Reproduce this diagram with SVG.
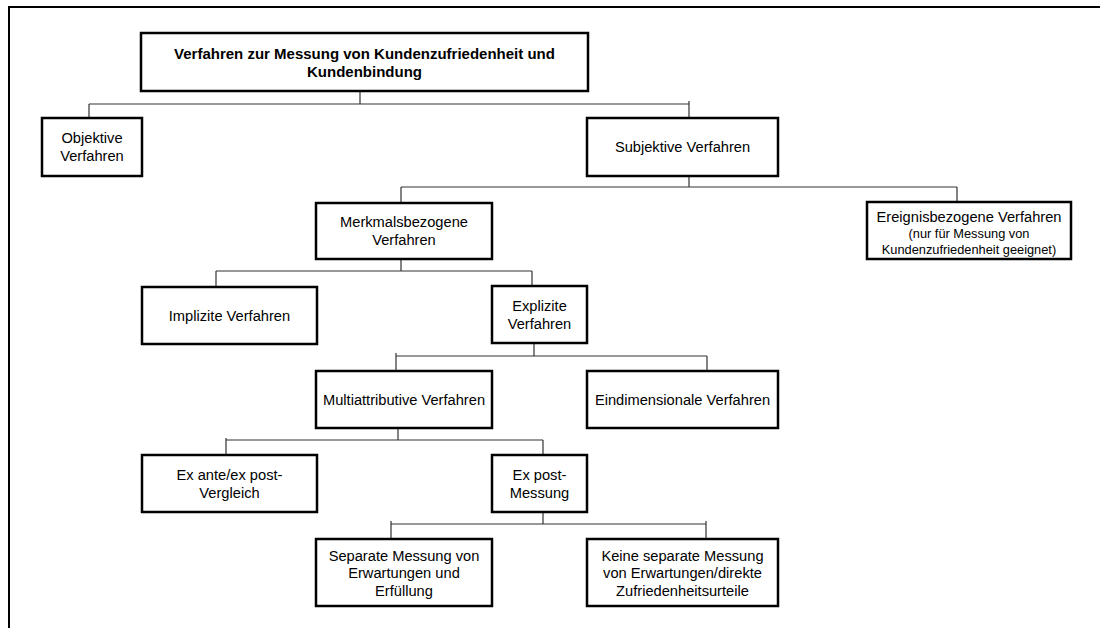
<svg xmlns="http://www.w3.org/2000/svg" width="1100" height="628" viewBox="0 0 1100 628">
<style>
.box{fill:#fff;stroke:#000;stroke-width:2.5}
.t{font-family:"Liberation Sans",Arial,sans-serif;font-size:14.67px;fill:#000;text-anchor:middle}
.tb{font-weight:bold;font-size:15px}
.ts{font-size:12.8px}
.c{fill:none;stroke:#333;stroke-width:1.2}
.frame{fill:none;stroke:#000;stroke-width:2}
</style>
<rect width="1100" height="628" fill="#fff"/>
<path class="frame" d="M8,7 H1100 M9,6 V628"/>
<g id="connectors">
<path class="c" d="M360,91 V104 M89,104 H689 M89,104 V118 M689,101 V118"/>
<path class="c" d="M689,176 V187 M401,187 H957 M401,187 V203 M957,187 V202"/>
<path class="c" d="M401,259 V271 M216,271 H532 M216,271 V287 M532,271 V286"/>
<path class="c" d="M534,343 V356 M396,356 H707 M396,353 V371 M707,356 V371"/>
<path class="c" d="M398,425 V440 M226,440 H543 M226,438 V455 M543,440 V455"/>
<path class="c" d="M543,512 V524 M391,524 H706 M391,521 V539 M706,521 V539"/>
</g>
<g id="n-root"><rect class="box" x="141" y="33" width="447" height="58"/><text class="t tb" x="364.5" y="58.5">Verfahren zur Messung von Kundenzufriedenheit und</text><text class="t tb" x="364.5" y="76.5">Kundenbindung</text></g>
<g id="n-objektiv"><rect class="box" x="42" y="118" width="100" height="58"/><text class="t" x="92" y="143">Objektive</text><text class="t" x="92" y="161">Verfahren</text></g>
<g id="n-subjektiv"><rect class="box" x="587" y="118" width="191" height="58"/><text class="t" x="682.5" y="152">Subjektive Verfahren</text></g>
<g id="n-merkmal"><rect class="box" x="316" y="203" width="176" height="56"/><text class="t" x="404" y="227">Merkmalsbezogene</text><text class="t" x="404" y="245">Verfahren</text></g>
<g id="n-ereignis"><rect class="box" x="867" y="202" width="204" height="57"/><text class="t" x="969" y="222">Ereignisbezogene Verfahren</text><text class="t ts" x="969" y="238">(nur für Messung von</text><text class="t ts" x="969" y="254">Kundenzufriedenheit geeignet)</text></g>
<g id="n-implizit"><rect class="box" x="142" y="287" width="175" height="57"/><text class="t" x="229.5" y="320.5">Implizite Verfahren</text></g>
<g id="n-explizit"><rect class="box" x="492" y="286" width="95" height="57"/><text class="t" x="539.5" y="311">Explizite</text><text class="t" x="539.5" y="329">Verfahren</text></g>
<g id="n-multi"><rect class="box" x="316" y="371" width="176" height="57"/><text class="t" x="404" y="404.5">Multiattributive Verfahren</text></g>
<g id="n-eindim"><rect class="box" x="587" y="371" width="191" height="57"/><text class="t" x="682.5" y="404.5">Eindimensionale Verfahren</text></g>
<g id="n-exante"><rect class="box" x="142" y="455" width="175" height="57"/><text class="t" x="229.5" y="479.5">Ex ante/ex post-</text><text class="t" x="229.5" y="497.5">Vergleich</text></g>
<g id="n-expost"><rect class="box" x="492" y="455" width="95" height="57"/><text class="t" x="539.5" y="479.5">Ex post-</text><text class="t" x="539.5" y="497.5">Messung</text></g>
<g id="n-separat"><rect class="box" x="316" y="539" width="176" height="67"/><text class="t" x="404" y="560.5">Separate Messung von</text><text class="t" x="404" y="578">Erwartungen und</text><text class="t" x="404" y="595.5">Erfüllung</text></g>
<g id="n-keine"><rect class="box" x="587" y="539" width="191" height="67"/><text class="t" x="682.5" y="560.5">Keine separate Messung</text><text class="t" x="682.5" y="578">von Erwartungen/direkte</text><text class="t" x="682.5" y="595.5">Zufriedenheitsurteile</text></g>
</svg>
